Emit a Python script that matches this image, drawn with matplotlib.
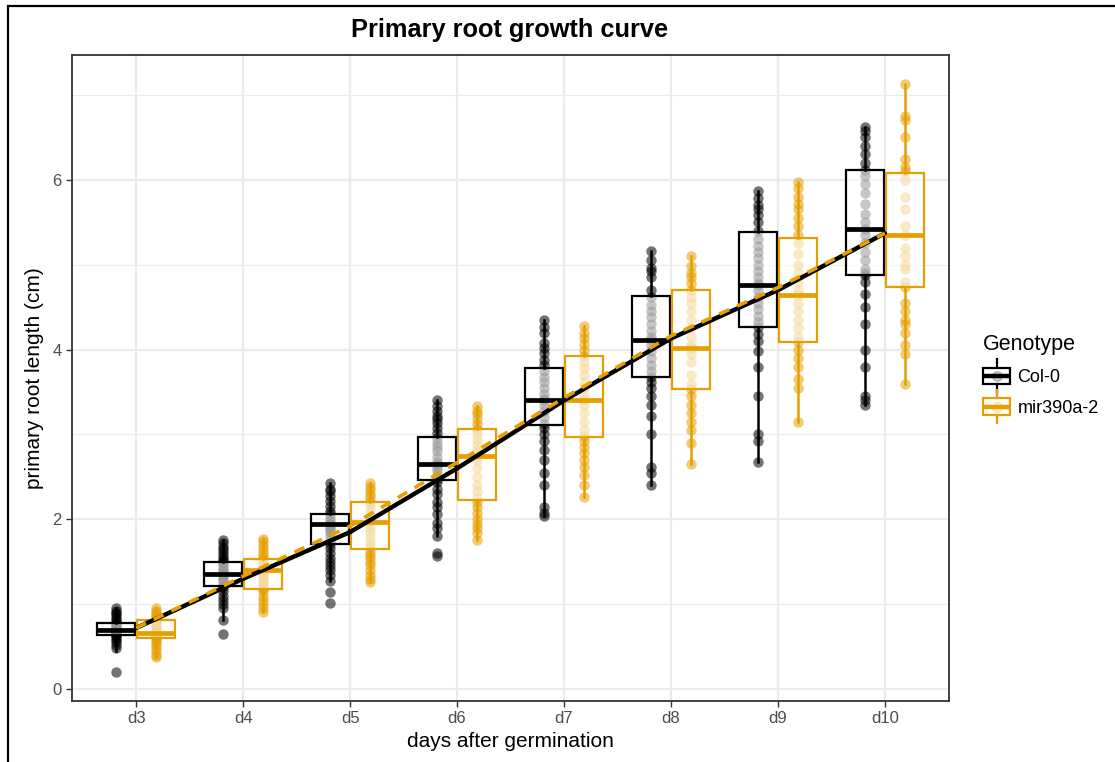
import numpy as np
import matplotlib
matplotlib.use("Agg")
import matplotlib.pyplot as plt
from matplotlib.patches import Rectangle
from matplotlib.lines import Line2D
from matplotlib.legend_handler import HandlerBase

plt.rcParams['font.family'] = ['Liberation Sans', 'DejaVu Sans']

days = ['d3', 'd4', 'd5', 'd6', 'd7', 'd8', 'd9', 'd10']
genotypes = ['Col-0', 'mir390a-2']
colors = {'Col-0': '#000000', 'mir390a-2': '#E69F00'}

# box statistics: whislo, q1, median, q3, whishi
col_stats = [
    [0.45, 0.64, 0.70, 0.78, 0.95],
    [0.82, 1.21, 1.36, 1.50, 1.76],
    [1.27, 1.71, 1.94, 2.06, 2.43],
    [1.80, 2.46, 2.65, 2.97, 3.41],
    [2.04, 3.11, 3.41, 3.78, 4.35],
    [2.40, 3.68, 4.11, 4.63, 5.16],
    [2.68, 4.27, 4.76, 5.39, 5.87],
    [3.35, 4.88, 5.42, 6.12, 6.62],
]
mir_stats = [
    [0.38, 0.60, 0.66, 0.81, 0.95],
    [0.91, 1.18, 1.40, 1.53, 1.77],
    [1.26, 1.65, 1.97, 2.20, 2.43],
    [1.76, 2.23, 2.75, 3.06, 3.33],
    [2.26, 2.97, 3.41, 3.92, 4.28],
    [2.65, 3.53, 4.02, 4.70, 5.10],
    [3.15, 4.09, 4.64, 5.31, 5.97],
    [3.60, 4.74, 5.35, 6.08, 7.13],
]

# individual measurements (cm)
col_points = [
    [0.95, 0.92, 0.90, 0.88, 0.85, 0.83, 0.80, 0.78, 0.76, 0.75, 0.73, 0.72, 0.71, 0.70, 0.70,
     0.69, 0.68, 0.67, 0.66, 0.65, 0.64, 0.62, 0.60, 0.58, 0.55, 0.52, 0.48, 0.20],
    [1.76, 1.72, 1.68, 1.65, 1.62, 1.58, 1.55, 1.52, 1.50, 1.48, 1.45, 1.42, 1.40, 1.38, 1.36,
     1.35, 1.33, 1.30, 1.28, 1.25, 1.22, 1.20, 1.15, 1.10, 1.05, 1.00, 0.95, 0.82, 0.65],
    [2.43, 2.36, 2.33, 2.27, 2.22, 2.16, 2.10, 2.06, 2.02, 1.98, 1.95, 1.94, 1.92, 1.90, 1.87,
     1.85, 1.80, 1.75, 1.71, 1.66, 1.60, 1.55, 1.50, 1.45, 1.40, 1.35, 1.27, 1.14, 1.02],
    [3.41, 3.34, 3.28, 3.22, 3.18, 3.14, 3.08, 3.02, 2.96, 2.90, 2.85, 2.80, 2.74, 2.68, 2.65,
     2.62, 2.58, 2.52, 2.48, 2.44, 2.36, 2.30, 2.20, 2.14, 2.06, 1.96, 1.90, 1.80, 1.60, 1.57],
    [4.35, 4.27, 4.20, 4.08, 4.02, 3.96, 3.88, 3.82, 3.75, 3.68, 3.62, 3.55, 3.48, 3.42, 3.40,
     3.35, 3.28, 3.20, 3.12, 3.08, 3.00, 2.92, 2.82, 2.70, 2.55, 2.40, 2.15, 2.08, 2.04],
    [5.16, 5.05, 4.96, 4.92, 4.85, 4.70, 4.62, 4.52, 4.45, 4.38, 4.30, 4.22, 4.15, 4.11, 4.05,
     3.98, 3.90, 3.82, 3.75, 3.68, 3.62, 3.55, 3.45, 3.35, 3.22, 3.00, 2.62, 2.55, 2.40],
    [5.87, 5.78, 5.70, 5.65, 5.58, 5.50, 5.40, 5.30, 5.22, 5.15, 5.08, 5.00, 4.92, 4.85, 4.78,
     4.76, 4.70, 4.62, 4.55, 4.48, 4.40, 4.32, 4.27, 4.18, 4.10, 3.98, 3.80, 3.45, 3.00, 2.92, 2.68],
    [6.62, 6.58, 6.50, 6.40, 6.30, 6.20, 6.12, 6.05, 5.95, 5.85, 5.72, 5.60, 5.50, 5.42, 5.35,
     5.25, 5.15, 5.05, 4.95, 4.90, 4.88, 4.80, 4.65, 4.50, 4.30, 4.00, 3.80, 3.45, 3.40, 3.35],
]
mir_points = [
    [0.95, 0.92, 0.90, 0.87, 0.85, 0.82, 0.80, 0.78, 0.76, 0.74, 0.72, 0.70, 0.68, 0.66, 0.65,
     0.64, 0.62, 0.61, 0.60, 0.58, 0.55, 0.52, 0.48, 0.45, 0.40, 0.38],
    [1.77, 1.74, 1.70, 1.66, 1.62, 1.58, 1.55, 1.52, 1.48, 1.45, 1.42, 1.40, 1.38, 1.36, 1.33,
     1.30, 1.27, 1.24, 1.20, 1.18, 1.15, 1.10, 1.05, 1.00, 0.95, 0.91],
    [2.43, 2.38, 2.34, 2.30, 2.26, 2.22, 2.18, 2.12, 2.05, 2.00, 1.98, 1.96, 1.90, 1.85, 1.78,
     1.72, 1.67, 1.62, 1.58, 1.54, 1.50, 1.46, 1.40, 1.35, 1.30, 1.26],
    [3.33, 3.28, 3.24, 3.18, 3.12, 3.06, 3.00, 2.95, 2.88, 2.82, 2.78, 2.75, 2.70, 2.60, 2.50,
     2.40, 2.33, 2.25, 2.20, 2.15, 2.08, 2.00, 1.95, 1.90, 1.84, 1.76],
    [4.28, 4.20, 4.14, 4.06, 4.00, 3.92, 3.85, 3.78, 3.70, 3.62, 3.55, 3.45, 3.41, 3.35, 3.25,
     3.15, 3.05, 2.98, 2.92, 2.85, 2.78, 2.70, 2.62, 2.52, 2.40, 2.26],
    [5.10, 4.98, 4.90, 4.85, 4.78, 4.70, 4.62, 4.55, 4.45, 4.35, 4.25, 4.15, 4.05, 4.02, 3.95,
     3.85, 3.70, 3.60, 3.53, 3.45, 3.35, 3.25, 3.15, 3.05, 2.90, 2.65],
    [5.97, 5.90, 5.80, 5.72, 5.65, 5.55, 5.45, 5.35, 5.25, 5.12, 5.00, 4.90, 4.80, 4.70, 4.64,
     4.55, 4.45, 4.35, 4.25, 4.15, 4.09, 4.00, 3.90, 3.80, 3.65, 3.55, 3.15],
    [7.13, 6.75, 6.70, 6.50, 6.25, 6.15, 6.10, 6.00, 5.80, 5.65, 5.45, 5.35, 5.20, 5.10, 5.00,
     4.95, 4.80, 4.74, 4.55, 4.45, 4.35, 4.30, 4.20, 4.05, 3.95, 3.60],
]

# trend lines (mean per day)
col_trend = [0.72, 1.30, 1.85, 2.60, 3.40, 4.13, 4.70, 5.37]
mir_trend = [0.72, 1.33, 1.92, 2.67, 3.43, 4.16, 4.73, 5.37]


class BoxKeyHandler(HandlerBase):
    def create_artists(self, legend, orig_handle, xdescent, ydescent, width, height, fontsize, trans):
        c = orig_handle.get_color()
        cx = width / 2 - xdescent
        y0 = -ydescent + height / 2
        bh = 12
        arts = []
        arts.append(Line2D([cx, cx], [y0 - 12, y0 + 12], color=c, lw=1.6, transform=trans))
        arts.append(Rectangle((cx - width / 2, y0 - bh / 2), width, bh,
                              facecolor='white', edgecolor=c, lw=1.6, transform=trans))
        arts.append(Line2D([cx], [y0], marker='o', ms=7, color=c, alpha=0.2, ls='none', transform=trans))
        arts.append(Line2D([cx - width / 2, cx + width / 2], [y0, y0], color=c, lw=3.2,
                           solid_capstyle='butt', transform=trans))
        return arts


fig = plt.figure(figsize=(11.15, 7.62), dpi=100)
fig.patches.append(Rectangle((8 / 1115, -0.1), 1.2, 1 - 6 / 762 + 0.1, transform=fig.transFigure,
                             fill=False, edgecolor='black', lw=1.6))
ax = fig.add_axes([72 / 1115, 1 - 701 / 762, (949 - 72) / 1115, (701 - 55) / 762])

x = np.arange(len(days))
off = 0.1875
bw = 0.36

for g, stats, pts, sign in [('Col-0', col_stats, col_points, -1), ('mir390a-2', mir_stats, mir_points, 1)]:
    c = colors[g]
    pos = x + sign * off
    for i in range(len(days)):
        ax.plot(np.full(len(pts[i]), pos[i]), pts[i], 'o', ms=7.5, color=c, alpha=0.55,
                mec='none', zorder=2)
    bstats = [dict(whislo=s[0], q1=s[1], med=s[2], q3=s[3], whishi=s[4], fliers=[]) for s in stats]
    ax.bxp(bstats, positions=pos, widths=bw, showcaps=False, showfliers=False, patch_artist=True,
           boxprops=dict(facecolor=(1, 1, 1, 0.6), edgecolor=c, lw=1.6, zorder=3),
           whiskerprops=dict(color=c, lw=1.8, zorder=3),
           medianprops=dict(color=c, lw=3.4, solid_capstyle='butt', zorder=3.5),
           manage_ticks=False)

ax.plot(x, col_trend, color='black', lw=3.2, zorder=5, solid_capstyle='round')
ax.plot(x, mir_trend, color='#E69F00', lw=2.6, ls=(0, (3, 2.4)), zorder=6)

ax.set_xlim(-0.6, 7.6)
ax.set_ylim(-0.14, 7.47)
ax.set_xticks(x)
ax.set_xticklabels(days)
ax.set_yticks([0, 2, 4, 6])
ax.set_yticks([1, 3, 5, 7], minor=True)
ax.grid(which='major', color='#ebebeb', lw=1.6, zorder=0)
ax.grid(which='minor', axis='y', color='#ebebeb', lw=0.8, zorder=0)
ax.set_axisbelow(True)
ax.tick_params(axis='both', which='major', labelsize=12, labelcolor='#4d4d4d', color='#333333',
               length=4, width=1, direction='out')
ax.tick_params(axis='y', which='minor', length=0)
for s in ax.spines.values():
    s.set_color('#333333')
    s.set_linewidth(1.3)

ax.set_xlabel('days after germination', fontsize=15, labelpad=4)
ax.set_ylabel('primary root length (cm)', fontsize=15, labelpad=6)
fig.text(510 / 1115, 1 - 30 / 762, 'Primary root growth curve', fontsize=18.3, fontweight='bold',
         ha='center', va='center')

handles = [Line2D([], [], color=colors[g]) for g in genotypes]
leg = fig.legend(handles, genotypes, title='Genotype', loc='upper left',
                 bbox_to_anchor=(967 / 1115, 1 - 318 / 762), frameon=False, fontsize=13,
                 title_fontsize=15.5, handler_map={Line2D: BoxKeyHandler()},
                 handlelength=1.5, handleheight=1.2, labelspacing=0.63, handletextpad=0.4)
leg._legend_box.align = 'left'

fig.savefig('out.png', dpi=100)
